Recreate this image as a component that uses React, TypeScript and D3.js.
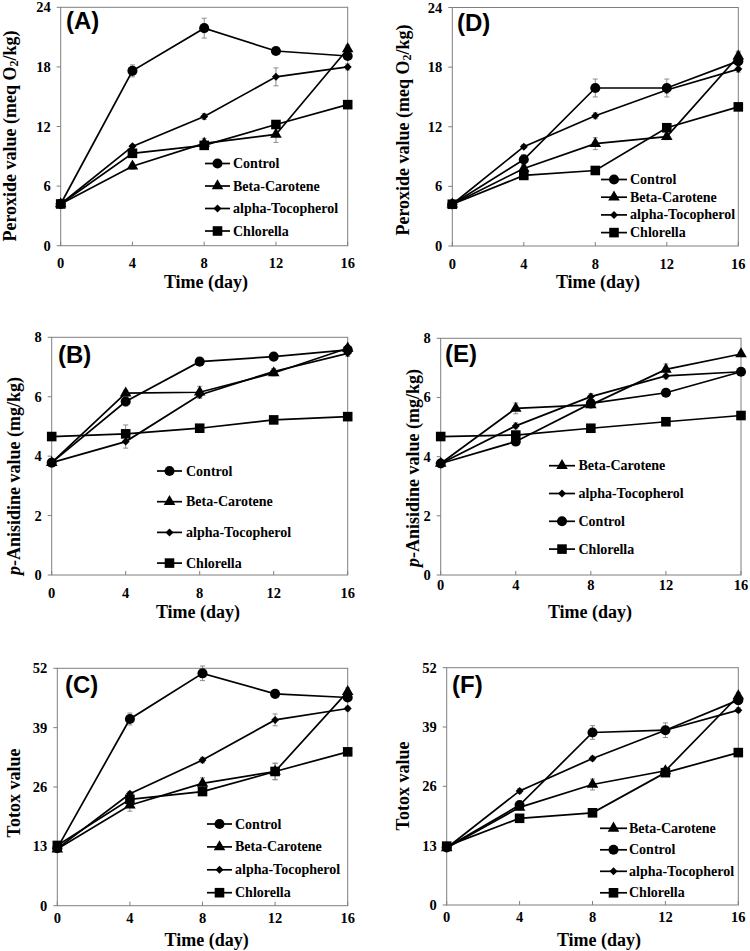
import React from "react";
import * as d3 from "d3";

// sampling days
const days = [0, 4, 8, 12, 16];

// (A) peroxide value
const pvControlA = [4.2, 17.6, 21.9, 19.6, 19.1];
const pvBetaA = [4.2, 8.0, 10.3, 11.2, 19.8];
const pvAlphaA = [4.2, 10.0, 13.0, 17.0, 18.0];
const pvChlorellaA = [4.2, 9.3, 10.1, 12.2, 14.2];
const pvControlErrA = [0.2, 0.6, 1.0, 0.3, 0.3];
const pvBetaErrA = [0.2, 0.3, 0.5, 0.8, 0.4];
const pvAlphaErrA = [0.2, 0.2, 0.3, 0.9, 0.3];
const pvChlorellaErrA = [0.2, 0.3, 0.3, 0.3, 0.3];

// (D) peroxide value
const pvControlD = [4.2, 8.7, 15.9, 15.9, 18.6];
const pvBetaD = [4.2, 7.8, 10.3, 11.0, 19.1];
const pvAlphaD = [4.2, 10.0, 13.1, 15.7, 17.8];
const pvChlorellaD = [4.2, 7.1, 7.6, 11.9, 14.0];
const pvControlErrD = [0.2, 0.5, 0.9, 0.9, 0.9];
const pvBetaErrD = [0.2, 0.3, 0.6, 0.3, 0.5];
const pvAlphaErrD = [0.2, 0.2, 0.3, 0.3, 0.3];
const pvChlorellaErrD = [0.2, 0.2, 0.3, 0.3, 0.3];

// (B) p-anisidine value
const paControlB = [3.78, 5.84, 7.18, 7.35, 7.58];
const paBetaB = [3.78, 6.12, 6.15, 6.8, 7.63];
const paAlphaB = [3.78, 4.49, 6.06, 6.85, 7.46];
const paChlorellaB = [4.66, 4.75, 4.94, 5.22, 5.33];
const paControlErrB = [0.1, 0.15, 0.12, 0.05, 0.1];
const paBetaErrB = [0.1, 0.1, 0.2, 0.1, 0.1];
const paAlphaErrB = [0.1, 0.22, 0.1, 0.1, 0.1];
const paChlorellaErrB = [0.05, 0.3, 0.05, 0.05, 0.05];

// (E) p-anisidine value
const paBetaE = [3.77, 5.63, 5.75, 6.95, 7.47];
const paAlphaE = [3.77, 5.04, 6.03, 6.73, 6.87];
const paControlE = [3.77, 4.51, 5.8, 6.16, 6.87];
const paChlorellaE = [4.68, 4.73, 4.96, 5.18, 5.39];
const paBetaErrE = [0.1, 0.18, 0.1, 0.18, 0.05];
const paAlphaErrE = [0.1, 0.1, 0.1, 0.1, 0.05];
const paControlErrE = [0.1, 0.1, 0.1, 0.05, 0.05];
const paChlorellaErrE = [0.05, 0.1, 0.05, 0.05, 0.05];

// (C) totox value
const ttControlC = [12.6, 40.9, 50.9, 46.4, 45.6];
const ttBetaC = [12.4, 22.0, 26.8, 29.4, 46.9];
const ttAlphaC = [12.5, 24.5, 31.9, 40.7, 43.2];
const ttChlorellaC = [13.2, 23.3, 25.0, 29.4, 33.7];
const ttControlErrC = [0.5, 1.3, 1.6, 0.6, 0.6];
const ttBetaErrC = [0.5, 1.3, 1.2, 1.8, 0.8];
const ttAlphaErrC = [0.4, 0.5, 0.6, 1.3, 0.5];
const ttChlorellaErrC = [0.5, 0.6, 0.6, 1.8, 0.5];

// (F) totox value
const ttBetaF = [12.5, 21.4, 26.4, 29.4, 45.8];
const ttControlF = [12.6, 21.9, 37.8, 38.3, 44.9];
const ttAlphaF = [12.5, 25.0, 32.1, 38.3, 42.7];
const ttChlorellaF = [12.9, 19.0, 20.2, 29.0, 33.4];
const ttBetaErrF = [0.4, 0.6, 1.2, 0.6, 0.8];
const ttControlErrF = [0.4, 0.6, 1.5, 1.6, 0.8];
const ttAlphaErrF = [0.4, 0.5, 0.5, 0.5, 0.5];
const ttChlorellaErrF = [0.5, 0.5, 0.5, 0.6, 0.5];

const pvTicks = [0, 6, 12, 18, 24];
const paTicks = [0, 2, 4, 6, 8];
const ttTicks = [0, 13, 26, 39, 52];

const legendABC = ["Control", "Beta-Carotene", "alpha-Tocopherol", "Chlorella"];
const legendE = ["Beta-Carotene", "alpha-Tocopherol", "Control", "Chlorella"];
const legendF = ["Beta-Carotene", "Control", "alpha-Tocopherol", "Chlorella"];

const SERIF = "'Liberation Serif', 'Times New Roman', serif";
const SANS = "'Liberation Sans', Arial, sans-serif";
const AXIS = "#7f7f7f";

const markers = {
  Control: { type: d3.symbolCircle, size: 80, rot: 0 },
  "Beta-Carotene": { type: d3.symbolTriangle, size: 58, rot: 0 },
  "alpha-Tocopherol": { type: d3.symbolSquare, size: 32, rot: 45 },
  Chlorella: { type: d3.symbolSquare, size: 92, rot: 0 },
};

const Marker = ({ name, x, y }) => {
  const m = markers[name];
  const d = d3.symbol().type(m.type).size(m.size)();
  return <path d={d} transform={`translate(${x},${y}) rotate(${m.rot})`} fill="#000" />;
};

const YLabel = ({ kind }) => {
  if (kind === "pv")
    return (
      <>
        Peroxide value (meq O<tspan fontSize="12" dy="4">2</tspan>
        <tspan dy="-4">/kg)</tspan>
      </>
    );
  if (kind === "pa")
    return (
      <>
        <tspan fontStyle="italic">p</tspan>-Anisidine value (mg/kg)
      </>
    );
  return <>Totox value</>;
};

const Panel = ({ p }) => {
  const x = d3.scaleLinear().domain([0, 16]).range([p.left, p.right]);
  const y = d3.scaleLinear().domain([0, p.ticks[p.ticks.length - 1]]).range([p.bottom, p.top]);
  const line = d3
    .line()
    .x((d, i) => x(days[i]))
    .y((d) => y(d));

  return (
    <g>
      <rect x={p.left} y={p.top} width={p.right - p.left} height={p.bottom - p.top} fill="none" stroke={AXIS} strokeWidth={1} />
      {p.ticks.map((t) => (
        <g key={"y" + t}>
          <line x1={p.left - 4} x2={p.left} y1={y(t)} y2={y(t)} stroke={AXIS} />
          <text x={p.left - 10} y={y(t)} textAnchor="end" dominantBaseline="central" fontFamily={SERIF} fontWeight="bold" fontSize="14.5">
            {t}
          </text>
        </g>
      ))}
      {days.map((t) => (
        <g key={"x" + t}>
          <line x1={x(t)} x2={x(t)} y1={p.bottom} y2={p.bottom - 4} stroke={AXIS} />
          <text x={x(t)} y={p.bottom + p.xLabGap} textAnchor="middle" fontFamily={SERIF} fontWeight="bold" fontSize="14.5">
            {t}
          </text>
        </g>
      ))}
      <text x={p.xTitleX} y={p.xTitleY} textAnchor="middle" fontFamily={SERIF} fontWeight="bold" fontSize="18">
        Time (day)
      </text>
      <text
        transform={`translate(${p.yTitleX},${p.yTitleY}) rotate(-90)`}
        textAnchor="middle"
        dominantBaseline="central"
        fontFamily={SERIF}
        fontWeight="bold"
        fontSize="18"
      >
        <YLabel kind={p.kind} />
      </text>
      <text x={p.letterX} y={p.letterY} fontFamily={SANS} fontWeight="bold" fontSize="24">
        {p.letter}
      </text>
      {p.series.map((s) => (
        <g key={s.name}>
          {s.values.map((v, i) => (
            <g key={i} stroke="#8c8c8c" strokeWidth={1}>
              <line x1={x(days[i])} x2={x(days[i])} y1={y(v - s.err[i])} y2={y(v + s.err[i])} />
              <line x1={x(days[i]) - 2.5} x2={x(days[i]) + 2.5} y1={y(v - s.err[i])} y2={y(v - s.err[i])} />
              <line x1={x(days[i]) - 2.5} x2={x(days[i]) + 2.5} y1={y(v + s.err[i])} y2={y(v + s.err[i])} />
            </g>
          ))}
        </g>
      ))}
      {p.series.map((s) => (
        <g key={"l" + s.name}>
          <path d={line(s.values)} fill="none" stroke="#000" strokeWidth={1.7} />
          {s.values.map((v, i) => (
            <Marker key={i} name={s.name} x={x(days[i])} y={y(v)} />
          ))}
        </g>
      ))}
      {p.legend.map((name, i) => {
        const ly = p.lgY + i * p.lgStep;
        return (
          <g key={"lg" + name}>
            <line x1={p.lgX0} x2={p.lgX1} y1={ly} y2={ly} stroke="#000" strokeWidth={1.7} />
            <Marker name={name} x={(p.lgX0 + p.lgX1) / 2} y={ly} />
            <text x={p.lgText} y={ly} dominantBaseline="central" fontFamily={SERIF} fontWeight="bold" fontSize="14">
              {name}
            </text>
          </g>
        );
      })}
    </g>
  );
};

const mk = (names, vals, errs) => names.map((n, i) => ({ name: n, values: vals[i], err: errs[i] }));

const panels = [
  {
    letter: "(A)", kind: "pv", ticks: pvTicks, left: 60.7, right: 347.7, top: 7.3, bottom: 245.7,
    xLabGap: 22.5, xTitleX: 206, xTitleY: 288, yTitleX: 10, yTitleY: 136, letterX: 66, letterY: 29,
    legend: legendABC, lgX0: 205, lgX1: 230, lgText: 233, lgY: 163.5, lgStep: 22.5,
    series: mk(legendABC, [pvControlA, pvBetaA, pvAlphaA, pvChlorellaA], [pvControlErrA, pvBetaErrA, pvAlphaErrA, pvChlorellaErrA]),
  },
  {
    letter: "(D)", kind: "pv", ticks: pvTicks, left: 452.3, right: 738.3, top: 7.5, bottom: 246,
    xLabGap: 22.5, xTitleX: 598, xTitleY: 288, yTitleX: 403, yTitleY: 130, letterX: 457, letterY: 31,
    legend: legendABC, lgX0: 601, lgX1: 627, lgText: 630, lgY: 179.5, lgStep: 17.7,
    series: mk(legendABC, [pvControlD, pvBetaD, pvAlphaD, pvChlorellaD], [pvControlErrD, pvBetaErrD, pvAlphaErrD, pvChlorellaErrD]),
  },
  {
    letter: "(B)", kind: "pa", ticks: paTicks, left: 51.7, right: 347.7, top: 337.3, bottom: 575,
    xLabGap: 23, xTitleX: 198, xTitleY: 618, yTitleX: 13.7, yTitleY: 476, letterX: 58, letterY: 363,
    legend: legendABC, lgX0: 157, lgX1: 182, lgText: 186, lgY: 471, lgStep: 30.7,
    series: mk(legendABC, [paControlB, paBetaB, paAlphaB, paChlorellaB], [paControlErrB, paBetaErrB, paAlphaErrB, paChlorellaErrB]),
  },
  {
    letter: "(E)", kind: "pa", ticks: paTicks, left: 440.7, right: 741, top: 338.3, bottom: 575,
    xLabGap: 15, xTitleX: 590, xTitleY: 618, yTitleX: 413.3, yTitleY: 468, letterX: 445, letterY: 362,
    legend: legendE, lgX0: 549, lgX1: 575, lgText: 578.5, lgY: 465.7, lgStep: 27.8,
    series: mk(legendE, [paBetaE, paAlphaE, paControlE, paChlorellaE], [paBetaErrE, paAlphaErrE, paControlErrE, paChlorellaErrE]),
  },
  {
    letter: "(C)", kind: "tt", ticks: ttTicks, left: 57.3, right: 347.7, top: 668.3, bottom: 905.7,
    xLabGap: 17.6, xTitleX: 206.7, xTitleY: 946, yTitleX: 14, yTitleY: 793, letterX: 65, letterY: 693,
    legend: legendABC, lgX0: 207, lgX1: 232, lgText: 235, lgY: 824, lgStep: 22.9,
    series: mk(legendABC, [ttControlC, ttBetaC, ttAlphaC, ttChlorellaC], [ttControlErrC, ttBetaErrC, ttAlphaErrC, ttChlorellaErrC]),
  },
  {
    letter: "(F)", kind: "tt", ticks: ttTicks, left: 446.7, right: 738.3, top: 667.7, bottom: 905,
    xLabGap: 17, xTitleX: 599, xTitleY: 946, yTitleX: 403.3, yTitleY: 786, letterX: 452, letterY: 693,
    legend: legendF, lgX0: 600, lgX1: 627, lgText: 629, lgY: 828.3, lgStep: 21.5,
    series: mk(legendF, [ttBetaF, ttControlF, ttAlphaF, ttChlorellaF], [ttBetaErrF, ttControlErrF, ttAlphaErrF, ttChlorellaErrF]),
  },
];

export default function App() {
  return (
    <svg width={750} height={951} style={{ position: "absolute", left: 0, top: 0, background: "#fff" }}>
      <rect width={750} height={951} fill="#fff" />
      {panels.map((p) => (
        <Panel key={p.letter} p={p} />
      ))}
    </svg>
  );
}
